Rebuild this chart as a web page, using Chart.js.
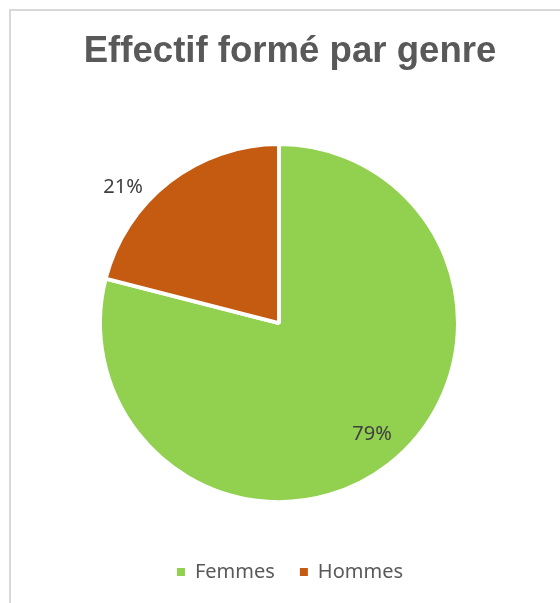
<!DOCTYPE html>
<html><head><meta charset="utf-8">
<script src="https://cdn.jsdelivr.net/npm/chart.js@4/dist/chart.umd.min.js"></script>
<style>
html,body{margin:0;padding:0;background:#fff;overflow:hidden;}
#wrap{position:relative;width:560px;height:603px;overflow:hidden;}
#frame{position:absolute;left:9px;top:9px;width:700px;height:700px;border-left:2px solid #d9d9d9;border-top:2px solid #d9d9d9;}
canvas{position:absolute;left:0;top:0;}
</style></head><body>
<div id="wrap"><div id="frame"></div><canvas id="c" width="560" height="603"></canvas></div>
<script>
const titleText = 'Effectif formé par genre';
const categories = ['Femmes', 'Hommes'];
const values = [79, 21];
const sliceColors = ['#92D050', '#C55A11'];

const sliceLabels = {
  id: 'sliceLabels',
  afterDatasetsDraw(chart, args, opts) {
    const ctx = chart.ctx;
    const meta = chart.getDatasetMeta(0);
    const data = chart.data.datasets[0].data;
    const total = data.reduce((a, b) => a + b, 0);
    ctx.save();
    ctx.font = opts.font;
    ctx.fillStyle = opts.color;
    ctx.textAlign = 'center';
    ctx.textBaseline = 'middle';
    meta.data.forEach((arc, i) => {
      const p = arc.getProps(['x', 'y', 'startAngle', 'endAngle', 'outerRadius'], true);
      const mid = (p.startAngle + p.endAngle) / 2 + opts.angleShift[i] * Math.PI / 180;
      const r = (p.outerRadius - opts.inset) * opts.radial[i];
      ctx.fillText(Math.round(data[i] / total * 100) + '%', p.x + Math.cos(mid) * r, p.y + Math.sin(mid) * r);
    });
    ctx.restore();
  }
};

new Chart(document.getElementById('c'), {
  type: 'pie',
  data: {
    labels: categories,
    datasets: [{
      data: values,
      backgroundColor: sliceColors,
      borderColor: '#ffffff',
      borderWidth: 4,
      radius: 179,
      hoverOffset: 0,
      offset: 0
    }]
  },
  options: {
    responsive: false,
    animation: false,
    events: [],
    layout: { padding: { left: 20, right: 0, top: 0, bottom: 11 } },
    plugins: {
      title: {
        display: true,
        text: titleText,
        color: '#595959',
        font: { family: "'Liberation Sans', Arial, sans-serif", size: 36.6, weight: 'bold', lineHeight: 1.2 },
        padding: { top: 30.4, bottom: 34.9 }
      },
      subtitle: {
        display: true,
        position: 'right',
        text: '',
        font: { size: 10, lineHeight: 1 },
        padding: 6
      },
      legend: {
        position: 'bottom',
        labels: {
          boxWidth: 8,
          boxHeight: 8,
          padding: 25,
          color: '#595959',
          font: { family: "'Noto Sans', sans-serif", size: 20 },
          generateLabels(chart) {
            const items = Chart.overrides.pie.plugins.legend.labels.generateLabels(chart);
            items.forEach(it => { it.lineWidth = 0; it.strokeStyle = it.fillStyle; });
            return items;
          }
        }
      },
      tooltip: { enabled: false },
      sliceLabels: {
        font: "20px 'Noto Sans', sans-serif",
        color: '#404040',
        inset: 2,
        radial: [0.818, 1.169],
        angleShift: [-2.2, -11.1]
      }
    }
  },
  plugins: [sliceLabels]
});
</script>
</body></html>
